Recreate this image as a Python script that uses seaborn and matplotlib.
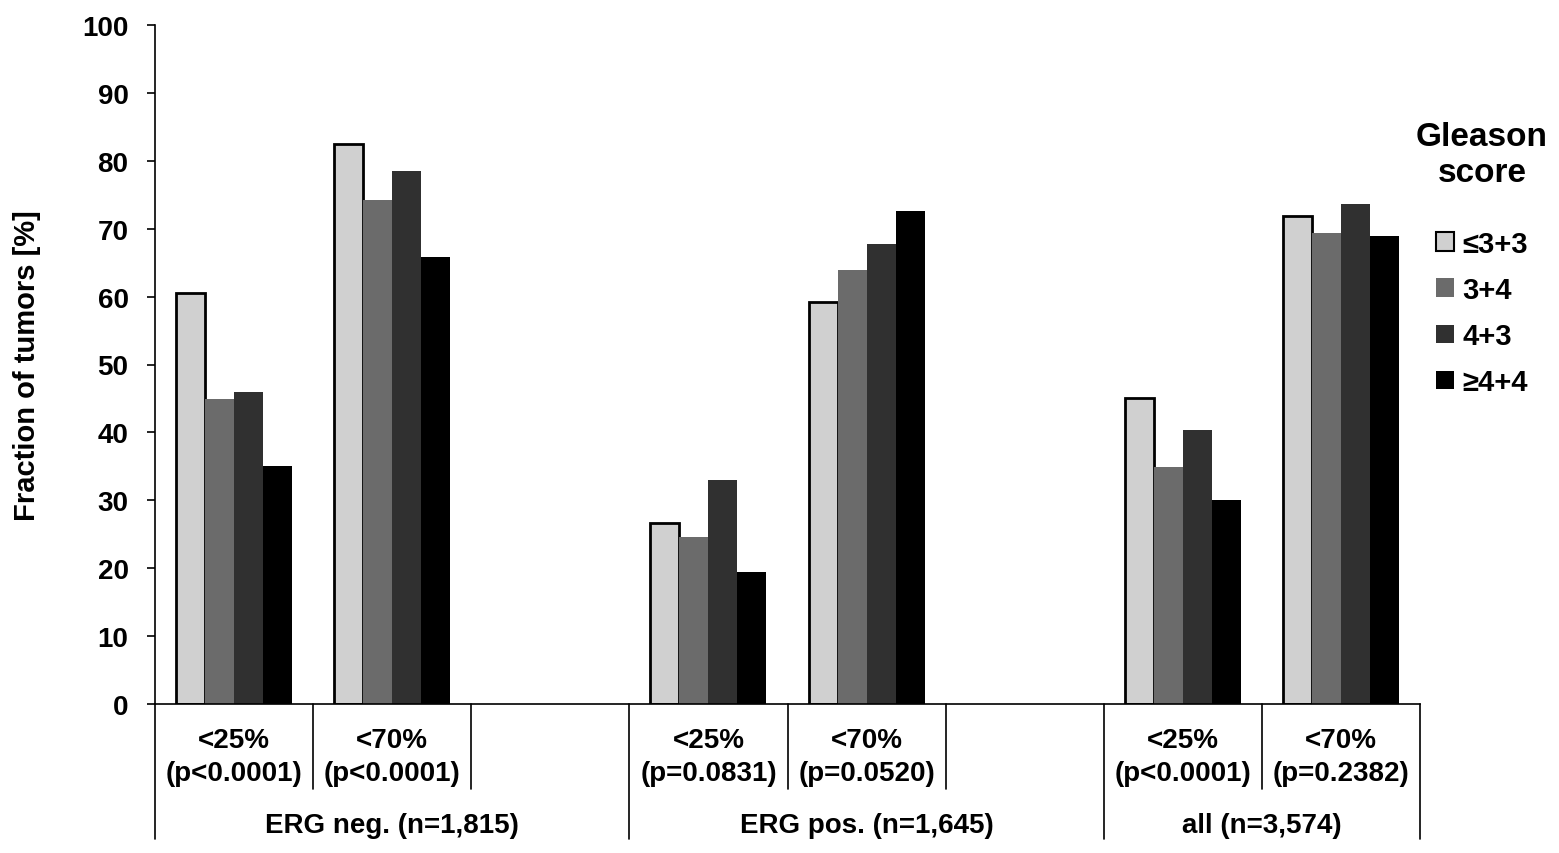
import matplotlib
matplotlib.use("Agg")
import matplotlib.pyplot as plt
import matplotlib.transforms as mtransforms
from matplotlib.patches import Patch
import seaborn as sns
import pandas as pd

# ---- data ----
groups = ["ERG neg. (n=1,815)", "ERG pos. (n=1,645)", "all (n=3,574)"]
thresholds = ["<25%", "<70%"]
pvalues = ["(p<0.0001)", "(p<0.0001)", "(p=0.0831)", "(p=0.0520)", "(p<0.0001)", "(p=0.2382)"]
scores = ["\u22643+3", "3+4", "4+3", "\u22654+4"]
colors = ["#d0d0d0", "#6b6b6b", "#303030", "#000000"]

erg_neg_25 = [60.5, 44.9, 46.0, 35.1]
erg_neg_70 = [82.5, 74.2, 78.5, 65.9]
erg_pos_25 = [26.6, 24.6, 33.0, 19.5]
erg_pos_70 = [59.2, 63.9, 67.7, 72.6]
all_25 = [45.0, 34.9, 40.3, 30.1]
all_70 = [71.8, 69.3, 73.6, 68.9]

slots = ["neg25", "neg70", "gap1", "pos25", "pos70", "gap2", "all25", "all70"]
series = {"neg25": erg_neg_25, "neg70": erg_neg_70,
          "pos25": erg_pos_25, "pos70": erg_pos_70,
          "all25": all_25, "all70": all_70}

rows = []
for slot, vals in series.items():
    for s, v in zip(scores, vals):
        rows.append({"slot": slot, "score": s, "value": v})
df = pd.DataFrame(rows)

sns.set_style("white")
plt.rcParams["font.family"] = ["Liberation Sans", "DejaVu Sans"]
plt.rcParams["font.weight"] = "bold"
for key in ["text.color", "axes.labelcolor", "xtick.color", "ytick.color", "axes.edgecolor"]:
    plt.rcParams[key] = "black"

W, H = 1559, 854
fig = plt.figure(figsize=(W / 100, H / 100), dpi=100)
ax = fig.add_axes([155 / W, 1 - 705 / H, (1420 - 155) / W, (705 - 26) / H])

sns.barplot(data=df, x="slot", y="value", hue="score", order=slots,
            hue_order=scores, palette=colors, saturation=1, width=0.734,
            ax=ax, legend=False, errorbar=None)

for i, cont in enumerate(ax.containers):
    for bar in cont:
        if i == 0:
            bar.set_edgecolor("black")
            bar.set_linewidth(2.0)
        else:
            bar.set_edgecolor("none")
            bar.set_linewidth(0)

FS = 20
ax.set_xlim(-0.5, 7.5)
ax.set_ylim(0, 100)
ax.set_yticks(range(0, 101, 10))
ax.set_xticks([])
ax.set_xlabel("")
ax.set_ylabel("Fraction of tumors [%]", fontsize=21, fontweight="bold", labelpad=30,
              color="black")
ax.tick_params(axis="y", direction="out", length=6, width=1.2, pad=13,
               labelsize=FS, left=True, color="black", labelcolor="black")
for lab in ax.get_yticklabels():
    lab.set_fontweight("bold")
for sp in ["top", "right"]:
    ax.spines[sp].set_visible(False)
for sp in ["left", "bottom"]:
    ax.spines[sp].set_color("black")
    ax.spines[sp].set_linewidth(1.2)

# ---- table-like category axis ----
trans = mtransforms.blended_transform_factory(ax.transData, ax.transAxes)
axh = 705 - 26
def fy(py):
    return (705 - py) / axh

short_y = fy(790)
long_y = fy(840)
bounds_long = [-0.5, 2.5, 5.5, 7.5]
bounds_short = [0.5, 1.5, 3.5, 4.5, 6.5]
for xb in bounds_long:
    ax.plot([xb, xb], [0, long_y], transform=trans, color="black", lw=1.2, clip_on=False)
for xb in bounds_short:
    ax.plot([xb, xb], [0, short_y], transform=trans, color="black", lw=1.2, clip_on=False)

data_slots = [0, 1, 3, 4, 6, 7]
for k, xs in enumerate(data_slots):
    ax.text(xs, fy(741), thresholds[k % 2], transform=trans, ha="center", va="center",
            fontsize=FS, fontweight="bold", color="black")
    ax.text(xs, fy(774), pvalues[k], transform=trans, ha="center", va="center",
            fontsize=FS, fontweight="bold", color="black")

group_centers = [1.0, 4.0, 6.5]
for g, xc in zip(groups, group_centers):
    ax.text(xc, fy(826), g, transform=trans, ha="center", va="center",
            fontsize=FS, fontweight="bold", color="black")

# ---- legend ----
handles = []
for c, s in zip(colors, scores):
    if c == colors[0]:
        handles.append(Patch(facecolor=c, edgecolor="black", linewidth=1.5, label=s))
    else:
        handles.append(Patch(facecolor=c, edgecolor="none", label=s))
leg = fig.legend(handles=handles, title="Gleason\nscore", loc="upper center",
                 bbox_to_anchor=(1482 / W, 1 - 102 / H), frameon=False,
                 prop={"size": 21, "weight": "bold"},
                 title_fontproperties={"size": 24, "weight": "bold"},
                 handlelength=0.6, handleheight=0.6, handletextpad=0.3,
                 labelspacing=0.62, borderpad=0.2, labelcolor="black")
leg.get_title().set_multialignment("center")
leg.get_title().set_color("black")
leg._legend_box.sep = 30

fig.savefig("out.png", dpi=100)
